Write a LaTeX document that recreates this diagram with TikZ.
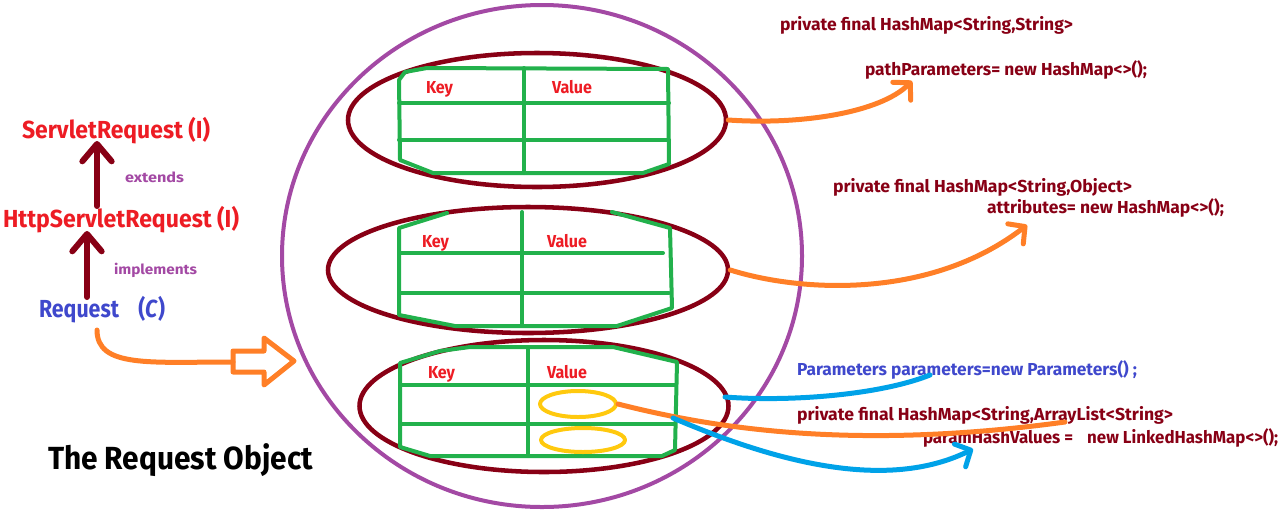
\documentclass[tikz,border=0pt]{standalone}
\usepackage{fontspec}
\setmainfont{Fira Sans}
\usetikzlibrary{arrows.meta,shapes.geometric}
\definecolor{dred}{HTML}{880015}
\definecolor{pred}{HTML}{ED1C24}
\definecolor{pgreen}{HTML}{22B14C}
\definecolor{ppurple}{HTML}{A349A4}
\definecolor{pblue}{HTML}{3F48CC}
\definecolor{lblue}{HTML}{00A2E8}
\definecolor{porange}{HTML}{FF7F27}
\definecolor{pyellow}{HTML}{FFC90E}
\newcommand{\fw}[2]{\resizebox{#1}{\height}{#2}}
\begin{document}
\begin{tikzpicture}[x=0.75pt,y=-0.75pt,line cap=round,line join=round,
  lbl/.style={anchor=base west,inner sep=0pt,outer sep=0pt},
  cls/.style={lbl,text=pred,font=\fontsize{18.5}{20}\selectfont\bfseries},
  rel/.style={lbl,text=ppurple,font=\fontsize{10.5}{12}\selectfont\bfseries},
  code/.style={lbl,text=dred,font=\fontsize{13}{15}\selectfont\bfseries},
  kv/.style={lbl,text=pred,font=\fontsize{13}{15}\selectfont\bfseries},
  oval/.style={ellipse,draw=dred,line width=3.4pt,inner sep=0pt},
  yoval/.style={ellipse,draw=pyellow,line width=3pt,inner sep=0pt},
  tbl/.style={draw=pgreen,line width=3pt},
  inh/.style={draw=dred,line width=4.5pt,-{Straight Barb[length=13pt,width=22pt,round]}},
  ocurve/.style={draw=porange,line width=3.75pt},
  bcurve/.style={draw=lblue,line width=3.75pt},
  barb/.style={-{Straight Barb[length=9pt,width=19pt,round]}}
]
\useasboundingbox (0,0) rectangle (1281,522);
% big circle
\node[ellipse,draw=ppurple,line width=3pt,inner sep=0pt,minimum width=390pt,minimum height=376.5pt] (obj) at (542,256) {};
% maps
\node[oval,minimum width=283.5pt,minimum height=100.5pt] (e1) at (537,120) {};
\node[oval,minimum width=300pt,minimum height=94.5pt] (e2) at (528,270) {};
\node[oval,minimum width=276.75pt,minimum height=99pt] (e3) at (544,406) {};
% table 1
\draw[tbl] (399,80) -- (405,72) -- (427,68) -- (668,69) -- (669,164) -- (643,173) -- (433,173) -- (400,160) -- cycle;
\draw[tbl] (524,68) -- (524,173);
\draw[tbl] (399,103) -- (669,103);
\draw[tbl] (399,140) -- (669,140);
% table 2
\draw[tbl] (447,213) -- (399,228) -- (399,315) -- (455,326) -- (617,326) -- (672,308) -- (670,228) -- (612,212);
\draw[tbl] (522,212) -- (522,325);
\draw[tbl] (399,253) -- (663,253);
\draw[tbl] (399,293) -- (669,293);
% table 3
\draw[tbl] (400,447) -- (400,363) -- (440,351) -- (470,347) -- (613,347) -- (677,362) -- (675,450) -- (662,456) -- (430,456) -- cycle;
\draw[tbl] (528,347) -- (528,456);
\draw[tbl] (400,385) -- (675,385);
\draw[tbl] (400,424) -- (675,424);
% yellow values
\node[yoval,minimum width=57pt,minimum height=19.5pt] (y1) at (578,404) {};
\node[yoval,minimum width=63pt,minimum height=18pt] (y2) at (583,440) {};
% key value labels
\node[kv] (k1) at (426,93) {\fw{20.25pt}{Key}};
\node[kv] (v1) at (552,93) {\fw{30pt}{Value}};
\node[kv] (k2) at (422,247) {\fw{20.25pt}{Key}};
\node[kv] (v2) at (547,247) {\fw{30pt}{Value}};
\node[kv] (k3) at (428,378) {\fw{20.25pt}{Key}};
\node[kv] (v3) at (547,378) {\fw{30pt}{Value}};
% left hierarchy
\node[cls] (sr) at (22,138) {\fw{141pt}{ServletRequest (I)}};
\node[cls] (hsr) at (3,227) {\fw{177pt}{HttpServletRequest (I)}};
\node[cls,text=pblue] (req) at (39,317) {\fw{94.5pt}{Request\hspace{0.9em}(\textit{C})}};
\node[rel] (ext) at (125,182) {\fw{44.25pt}{extends}};
\node[rel] (impl) at (114,274) {\fw{62.25pt}{implements}};
\node[lbl,font=\fontsize{24}{28}\selectfont\bfseries] (title) at (48,469) {\fw{198.75pt}{The Request Object}};
\coordinate (a1s) at (97,206);
\coordinate (a1e) at (97,141);
\coordinate (a2s) at (87,297);
\coordinate (a2e) at (87,231);
\draw[inh] (a1s) -- (a1e);
\draw[inh] (a2s) -- (a2e);
% hollow arrow into the object
\coordinate (rqs) at (97,330);
\coordinate (hin) at (233,362);
\draw[ocurve] (233,351) -- (264,351) -- (264,338) -- (294,361) -- (264,385) -- (264,372) -- (233,372) -- cycle;
\draw[ocurve] (rqs) .. controls (97,368) and (150,362) .. (hin);
% right code texts
\node[code] (c1a) at (780,30) {\fw{219.75pt}{private final HashMap<String,String>}};
\node[code] (c1b) at (865,75) {\fw{211.5pt}{pathParameters= new HashMap<>();}};
\node[code] (c2a) at (833,192) {\fw{224.25pt}{private final HashMap<String,Object>}};
\node[code] (c2b) at (987,213) {\fw{177.75pt}{attributes= new HashMap<>();}};
\node[code,text=pblue] (c3) at (797,375) {\fw{255pt}{Parameters parameters=new Parameters() ;}};
\node[code] (c4a) at (797,420) {\fw{282pt}{private final HashMap<String,ArrayList<String>}};
\node[code] (c4b) at (923,443) {\fw{266.25pt}{paramHashValues =\hspace{0.6em} new LinkedHashMap<>();}};
% connectors
\coordinate (t1) at (912,81);
\coordinate (t2) at (1027,225);
\coordinate (b1s) at (725,397);
\coordinate (b1e) at (930,375);
\coordinate (b2s) at (673,418);
\coordinate (b2e) at (973,449);
\coordinate (o3e) at (1065,422);
\draw[ocurve,barb] (e1.east) .. controls (800,125) and (880,113) .. (t1);
\draw[ocurve,barb] (e2.east) .. controls (800,292) and (930,300) .. (t2);
\draw[bcurve] (b1s) .. controls (790,402) and (880,395) .. (b1e);
\draw[ocurve] (y1.east) .. controls (720,430) and (860,450) .. (o3e);
\draw[bcurve,barb] (b2s) .. controls (760,455) and (880,495) .. (b2e);
\end{tikzpicture}
\end{document}
